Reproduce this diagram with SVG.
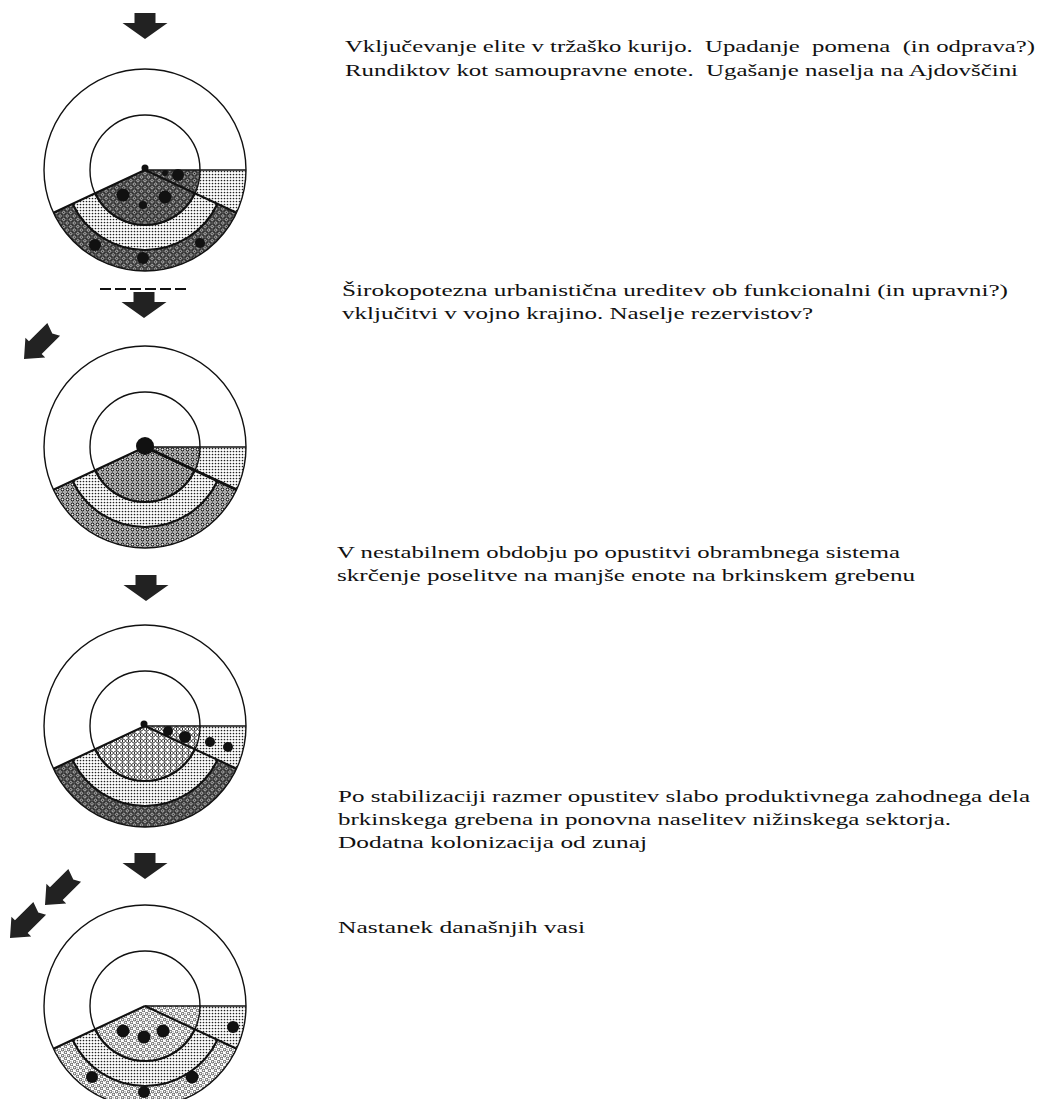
<svg xmlns="http://www.w3.org/2000/svg" xmlns:xlink="http://www.w3.org/1999/xlink" width="1040" height="1099" viewBox="0 0 1040 1099">
<style>
.t{font-family:"Liberation Serif","DejaVu Serif",serif;font-size:17px;fill:#111}
.ln{fill:none;stroke:#111;stroke-width:1.4}
.bd{fill:none;stroke:#111;stroke-width:2.1}
.blob{fill:#111}
.arr{fill:#222}
</style>
<defs>
<pattern id="dots" width="3" height="3" patternUnits="userSpaceOnUse">
<rect width="3" height="3" fill="#fff"/>
<circle cx="1.5" cy="1.5" r="0.85" fill="#222"/>
</pattern>
<pattern id="check" width="5" height="5" patternUnits="userSpaceOnUse" patternTransform="rotate(45)">
<rect width="5" height="5" fill="#fff"/>
<rect x="0.7" y="0.7" width="3.6" height="3.6" fill="none" stroke="#111" stroke-width="1.1"/>
<circle cx="2.5" cy="2.5" r="0.8" fill="#111"/>
</pattern>
<pattern id="rings" width="5" height="5" patternUnits="userSpaceOnUse">
<rect width="5" height="5" fill="#fff"/>
<circle cx="2.5" cy="2.5" r="1.6" fill="none" stroke="#111" stroke-width="1.1"/>
<circle cx="0" cy="0" r="0.7" fill="#111"/><circle cx="5" cy="0" r="0.7" fill="#111"/>
<circle cx="0" cy="5" r="0.7" fill="#111"/><circle cx="5" cy="5" r="0.7" fill="#111"/>
</pattern>
<pattern id="wavy" width="6" height="6" patternUnits="userSpaceOnUse">
<rect width="6" height="6" fill="#fff"/>
<path d="M0,1.5 Q1.5,-0.5 3,1.5 T6,1.5 M0,4.5 Q1.5,6.5 3,4.5 T6,4.5 M1.5,1.5 V4.5" fill="none" stroke="#111" stroke-width="0.9"/>
</pattern>
<pattern id="orings" width="6" height="6" patternUnits="userSpaceOnUse">
<rect width="6" height="6" fill="#fff"/>
<circle cx="1.6" cy="1.6" r="1.3" fill="none" stroke="#222" stroke-width="0.8"/>
<circle cx="4.6" cy="4.5" r="1.3" fill="none" stroke="#222" stroke-width="0.8"/>
<circle cx="4.5" cy="1.2" r="0.4" fill="#222"/>
</pattern>
<path id="regI" d="M0,0 L55,0 A55,55 0 0 1 -49.85,23.24 Z"/>
<path id="regB" d="M49.85,23.24 L72.5,33.81 A80,80 0 0 1 -72.5,33.81 L-49.85,23.24 A55,55 0 0 0 49.85,23.24 Z"/>
<path id="regC" d="M72.5,33.81 L91.54,42.68 A101,101 0 0 1 -91.54,42.68 L-72.5,33.81 A80,80 0 0 0 72.5,33.81 Z"/>
<path id="regD" d="M55,0 L101,0 A101,101 0 0 1 91.54,42.68 L49.85,23.24 A55,55 0 0 0 55,0 Z"/>
<g id="frame">
<circle class="ln" r="101"/>
<circle class="ln" r="55"/>
<path class="ln" d="M0,0 H101"/>
<path class="bd" d="M0,0 L-91.54,42.68 M0,0 L91.54,42.68"/>
<path class="bd" d="M72.5,33.81 A80,80 0 0 1 -72.5,33.81"/>
<path class="bd" d="M49.85,23.24 A55,55 0 0 1 -49.85,23.24"/>
</g>
<path id="arrDown" d="M-10.5,-26 H10.5 V-16 H22.5 L0,0 L-22.5,-16 H-10.5 Z"/>
<path id="arrDiag" d="M-9,-42 L2,-38 L9,-42 V-16 H14 L0,0 L-14,-16 H-9 Z"/>
</defs>

<g id="connectors">
<use xlink:href="#arrDown" class="arr" transform="translate(145,39)"/>
<path d="M100,289 H190" fill="none" stroke="#111" stroke-width="2" stroke-dasharray="11 4"/>
<use xlink:href="#arrDown" class="arr" transform="translate(144,318)"/>
<use xlink:href="#arrDiag" class="arr" transform="translate(24,359) rotate(45)"/>
<use xlink:href="#arrDown" class="arr" transform="translate(146,601)"/>
<use xlink:href="#arrDown" class="arr" transform="translate(145,879)"/>
<use xlink:href="#arrDiag" class="arr" transform="translate(45,905) rotate(45)"/>
<use xlink:href="#arrDiag" class="arr" transform="translate(10,938) rotate(45)"/>
</g>

<g id="stage1">
<g transform="translate(145,170)">
<use xlink:href="#regI" fill="url(#check)"/>
<use xlink:href="#regB" fill="url(#dots)"/>
<use xlink:href="#regC" fill="url(#check)"/>
<use xlink:href="#regD" fill="url(#dots)"/>
<use xlink:href="#frame"/>
</g>
<circle class="blob" cx="145" cy="168" r="3.5"/>
<circle class="blob" cx="123" cy="195" r="6.5"/>
<circle class="blob" cx="165" cy="197" r="6.5"/>
<circle class="blob" cx="143" cy="205" r="4"/>
<circle class="blob" cx="178" cy="175" r="6"/>
<circle class="blob" cx="165" cy="173" r="3"/>
<circle class="blob" cx="95" cy="245" r="6"/>
<circle class="blob" cx="143" cy="258" r="6"/>
<circle class="blob" cx="200" cy="243" r="5"/>
</g>

<g id="stage2">
<g transform="translate(145,447)">
<use xlink:href="#regI" fill="url(#rings)"/>
<use xlink:href="#regB" fill="url(#dots)"/>
<use xlink:href="#regC" fill="url(#rings)"/>
<use xlink:href="#regD" fill="url(#dots)"/>
<use xlink:href="#frame"/>
<path d="M0,0 L91.54,42.68" fill="none" stroke="#111" stroke-width="2.8"/>
</g>
<circle class="blob" cx="145" cy="446" r="9"/>
</g>

<g id="stage3">
<g transform="translate(145,726)">
<use xlink:href="#regI" fill="url(#wavy)"/>
<use xlink:href="#regB" fill="url(#dots)"/>
<use xlink:href="#regC" fill="url(#check)"/>
<use xlink:href="#regD" fill="url(#dots)"/>
<use xlink:href="#frame"/>
</g>
<circle class="blob" cx="144" cy="724" r="3.5"/>
<circle class="blob" cx="168" cy="731" r="5"/>
<circle class="blob" cx="185" cy="737" r="6"/>
<circle class="blob" cx="210" cy="742" r="5"/>
<circle class="blob" cx="228" cy="747" r="5"/>
</g>

<g id="stage4">
<g transform="translate(145,1006)">
<use xlink:href="#regI" fill="url(#orings)"/>
<use xlink:href="#regB" fill="url(#dots)"/>
<use xlink:href="#regC" fill="url(#orings)"/>
<use xlink:href="#regD" fill="url(#dots)"/>
<use xlink:href="#frame"/>
</g>
<circle class="blob" cx="123" cy="1031" r="6.5"/>
<circle class="blob" cx="144" cy="1037" r="6.5"/>
<circle class="blob" cx="163" cy="1031" r="6.5"/>
<circle class="blob" cx="233" cy="1027" r="6"/>
<circle class="blob" cx="92" cy="1077" r="6"/>
<circle class="blob" cx="192" cy="1077" r="6.5"/>
<circle class="blob" cx="144" cy="1092" r="6"/>
</g>

<g id="text1">
<text class="t" x="345" y="52" textLength="690" lengthAdjust="spacingAndGlyphs" xml:space="preserve">Vključevanje elite v tržaško kurijo.  Upadanje  pomena  (in odprava?)</text>
<text class="t" x="345" y="76" textLength="673" lengthAdjust="spacingAndGlyphs" xml:space="preserve">Rundiktov kot samoupravne enote.  Ugašanje naselja na Ajdovščini</text>
</g>
<g id="text2">
<text class="t" x="342" y="296" textLength="666" lengthAdjust="spacingAndGlyphs">Širokopotezna urbanistična ureditev ob funkcionalni (in upravni?)</text>
<text class="t" x="342" y="319" textLength="471" lengthAdjust="spacingAndGlyphs">vključitvi v vojno krajino. Naselje rezervistov?</text>
</g>
<g id="text3">
<text class="t" x="337" y="558" textLength="563" lengthAdjust="spacingAndGlyphs">V nestabilnem obdobju po opustitvi obrambnega sistema</text>
<text class="t" x="337" y="581" textLength="578" lengthAdjust="spacingAndGlyphs">skrčenje poselitve na manjše enote na brkinskem grebenu</text>
</g>
<g id="text4">
<text class="t" x="338" y="802" textLength="692" lengthAdjust="spacingAndGlyphs">Po stabilizaciji razmer opustitev slabo produktivnega zahodnega dela</text>
<text class="t" x="338" y="825" textLength="613" lengthAdjust="spacingAndGlyphs">brkinskega grebena in ponovna naselitev nižinskega sektorja.</text>
<text class="t" x="338" y="848" textLength="309" lengthAdjust="spacingAndGlyphs">Dodatna kolonizacija od zunaj</text>
</g>
<g id="text5">
<text class="t" x="338" y="933" textLength="247" lengthAdjust="spacingAndGlyphs">Nastanek današnjih vasi</text>
</g>
</svg>
